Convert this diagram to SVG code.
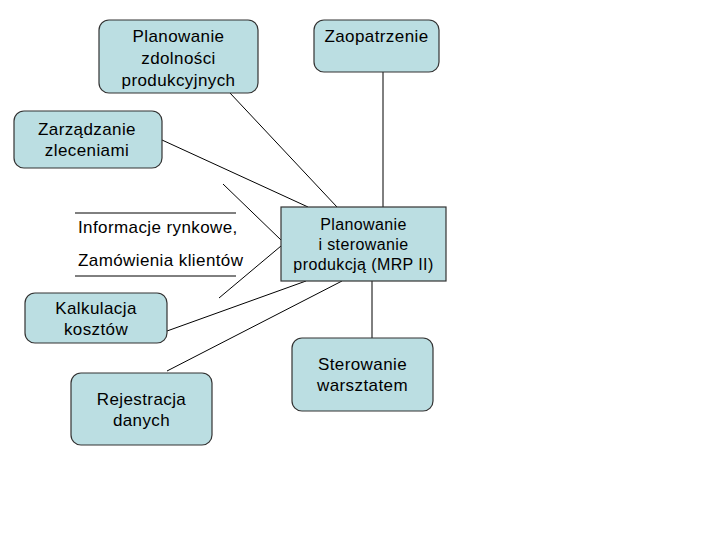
<svg xmlns="http://www.w3.org/2000/svg" width="720" height="540" viewBox="0 0 720 540">
<style>
.box{fill:#BBDEE2;stroke:#333;stroke-width:1.2}
.t{font-family:"Liberation Sans",Arial,sans-serif;font-size:17px;fill:#000;text-anchor:middle;letter-spacing:0.4px}
.l{text-anchor:start}
.m{font-size:16px;letter-spacing:0.4px}
.c line{stroke:#000;stroke-width:1}
</style>
<rect width="720" height="540" fill="#fff"/>
<g class="c" id="connectors">
<line x1="230" y1="93" x2="337" y2="207"/>
<line x1="383" y1="72" x2="383" y2="207"/>
<line x1="162" y1="140" x2="308" y2="207"/>
<line x1="223" y1="184" x2="281" y2="240"/>
<line x1="219" y1="298" x2="281" y2="246"/>
<line x1="167" y1="331" x2="306" y2="281"/>
<line x1="167" y1="371" x2="342" y2="281"/>
<line x1="372" y1="281" x2="372" y2="338"/>
<line x1="75" y1="213" x2="236" y2="213"/>
<line x1="75" y1="276" x2="236" y2="276"/>
</g>
<g id="planowanie-zdolnosci">
<rect class="box" x="99" y="20" width="159" height="73" rx="10"/>
<text class="t" x="178.5" y="42">Planowanie</text>
<text class="t" x="178.5" y="64">zdolności</text>
<text class="t" x="178.5" y="86">produkcyjnych</text>
</g>
<g id="zaopatrzenie">
<rect class="box" x="314" y="20" width="125" height="52" rx="10"/>
<text class="t" x="376.5" y="42">Zaopatrzenie</text>
</g>
<g id="zarzadzanie">
<rect class="box" x="14" y="111" width="148" height="57" rx="10"/>
<text class="t" x="87" y="135">Zarządzanie</text>
<text class="t" x="87" y="156">zleceniami</text>
</g>
<g id="informacje">
<text class="t l" x="78" y="233">Informacje rynkowe,</text>
<text class="t l" x="78" y="266">Zamówienia klientów</text>
</g>
<g id="mrp">
<rect class="box" x="281" y="207" width="165" height="74"/>
<text class="t m" x="363.5" y="230">Planowanie</text>
<text class="t m" x="363.5" y="250">i sterowanie</text>
<text class="t m" x="363.5" y="270">produkcją (MRP II)</text>
</g>
<g id="kalkulacja">
<rect class="box" x="25" y="293" width="142" height="50" rx="10"/>
<text class="t" x="96" y="314">Kalkulacja</text>
<text class="t" x="96" y="335">kosztów</text>
</g>
<g id="rejestracja">
<rect class="box" x="71" y="373" width="141" height="72" rx="10"/>
<text class="t" x="141.5" y="405">Rejestracja</text>
<text class="t" x="141.5" y="426">danych</text>
</g>
<g id="sterowanie">
<rect class="box" x="292" y="338" width="141" height="73" rx="10"/>
<text class="t" x="362.5" y="370">Sterowanie</text>
<text class="t" x="362.5" y="391">warsztatem</text>
</g>
</svg>
